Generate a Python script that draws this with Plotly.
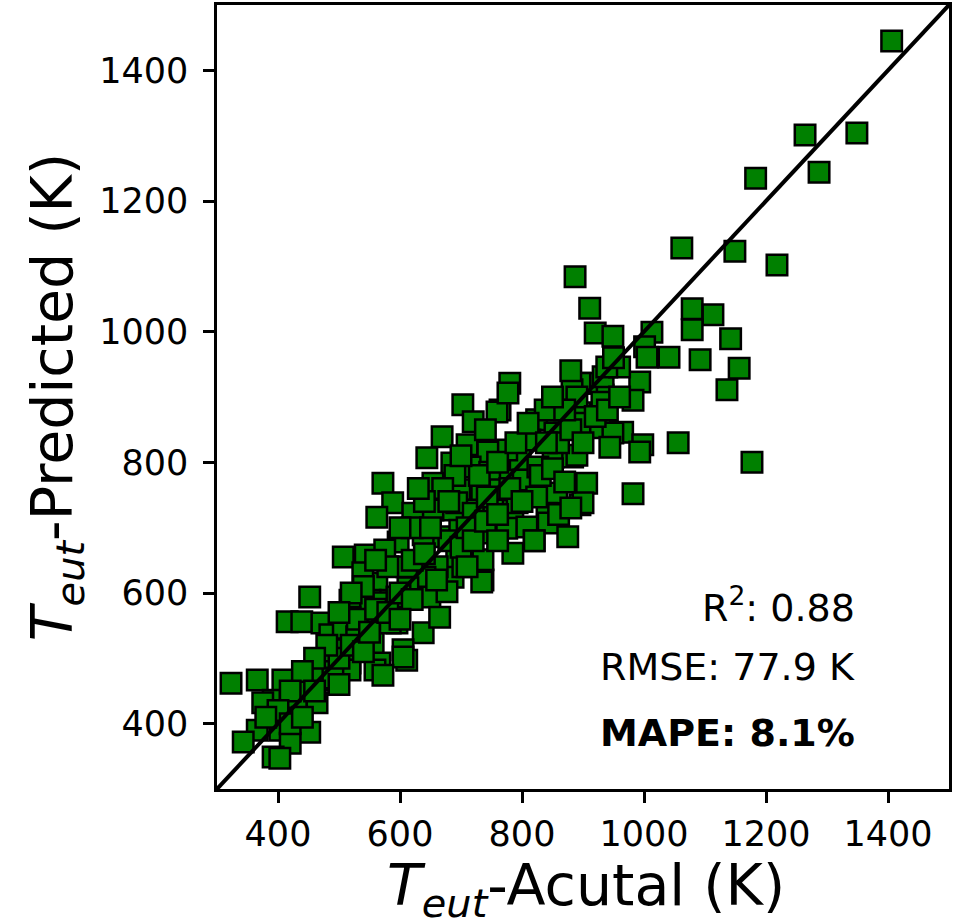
import plotly.graph_objects as go

actual = [1406, 1264, 1349, 1287, 1183, 1218, 1062, 1149, 887, 911, 1079, 1113, 1079, 1142, 1013, 1001,
          1041, 1092, 1156, 1136, 920, 949, 993, 982, 933, 906, 933, 960, 1056, 933, 965, 998, 1177, 982,
          1005, 939, 895, 882, 780, 764, 895, 928, 949, 993, 944, 851, 824, 851, 883, 808, 824, 857, 906,
          895, 841, 785, 769, 797, 775, 703, 759, 720, 777, 669, 710, 744, 644, 685, 715, 747, 654, 698,
          734, 764, 802, 826, 890, 813, 854, 895, 931, 890, 838, 900, 824, 792, 752, 720, 687, 654, 665,
          698, 736, 775, 808, 843, 875, 785, 731, 693, 649, 687, 736, 572, 588, 621, 562, 597, 507, 543,
          575, 638, 693, 720, 743, 736, 703, 734, 661, 641, 611, 562, 539, 613, 649, 677, 584, 551, 518,
          518, 562, 595, 638, 665, 538, 507, 490, 556, 605, 611, 567, 518, 485, 452, 415, 439, 472, 485,
          507, 529, 567, 595, 584, 507, 529, 559, 605, 572, 518, 480, 464, 436, 408, 366, 323, 392, 420,
          464, 375, 408, 366, 403, 452, 343, 420, 392, 403,
          430, 450, 470, 490, 500, 520, 540, 530, 550, 560, 580, 600, 620, 600, 620, 640, 660, 680, 700,
          710, 720, 740, 760, 760, 780, 800, 820, 830, 850, 860, 880, 900, 920, 940, 960, 950, 690, 670,
          640, 620, 600, 580, 560, 540, 520, 500, 480, 460, 440, 420, 400, 380, 420, 440, 460, 730, 760,
          790, 810, 840, 870, 880, 850, 740, 700, 680, 650, 630, 860, 880, 820, 710, 870, 500]
predicted = [1445, 1301, 1304, 1244, 1235, 1102, 1128, 1123, 1084, 1036, 1035, 1026, 1003, 989, 999, 977,
             961, 957, 944, 911, 998, 993, 923, 895, 903, 921, 931, 946, 830, 854, 846, 827, 800, 752,
             961, 946, 921, 911, 921, 880, 876, 853, 845, 816, 823, 865, 865, 808, 808, 784, 753, 753, 768,
             735, 722, 727, 778, 804, 819, 888, 877, 862, 906, 839, 827, 816, 807, 799, 793, 785, 768, 758,
             753, 758, 773, 793, 811, 834, 845, 860, 892, 900, 880, 738, 747, 738, 727, 727, 727, 727, 686,
             696, 692, 699, 701, 707, 686, 661, 646, 655, 624, 624, 620, 768, 738, 722, 716, 678, 655, 658,
             666, 689, 738, 722, 747, 651, 640, 617, 640, 624, 640, 615, 631, 608, 594, 602, 589, 589, 589,
             563, 563, 554, 539, 563, 548, 533, 543, 523, 513, 497, 493, 493, 497, 594, 556, 556, 554, 536,
             546, 533, 585, 594, 554, 513, 513, 482, 502, 474, 482, 467, 470, 464, 467, 467, 462, 436, 432,
             432, 432, 416, 390, 390, 387, 372, 370, 349, 347,
             440, 455, 480, 470, 500, 520, 510, 560, 540, 575, 570, 600, 590, 560, 650, 660, 620, 680, 670,
             700, 680, 710, 720, 680, 760, 740, 680, 780, 790, 830, 850, 830, 870, 880, 900, 960, 780, 760,
             740, 700, 700, 640, 650, 610, 600, 570, 520, 500, 480, 450, 420, 410, 400, 410, 450, 780, 800,
             830, 860, 830, 880, 940, 900, 850, 810, 740, 700, 760, 720, 730, 680, 640, 770, 460]

axis_range = [300, 1500]
tick_vals = [400, 600, 800, 1000, 1200, 1400]
stats_lines = ["R<sup>2</sup>: 0.88", "RMSE: 77.9 K", "<b>MAPE: 8.1%</b>"]
x_title = "<i>T</i><sub><i>eut</i></sub>-Acutal (K)"
y_title = "<i>T</i><sub><i>eut</i></sub>-Predicted (K)"

fig = go.Figure()
fig.add_trace(go.Scatter(
    x=actual, y=predicted, mode="markers",
    marker=dict(symbol="square", size=20.5, color="#008000",
                line=dict(color="black", width=2.5)),
    hoverinfo="skip", showlegend=False))
fig.add_trace(go.Scatter(
    x=axis_range, y=axis_range, mode="lines",
    line=dict(color="black", width=4), hoverinfo="skip", showlegend=False))

axis_common = dict(
    range=axis_range, tickvals=tick_vals, ticks="outside", ticklen=11, tickwidth=2.5,
    tickcolor="black", showline=True, linecolor="black", linewidth=2.5, mirror=True,
    showgrid=False, zeroline=False, automargin=False,
    tickfont=dict(family="DejaVu Sans", size=35, color="black"))

fig.update_xaxes(**axis_common, ticklabelstandoff=1)
fig.update_yaxes(**axis_common, ticklabelstandoff=8,
                 title=dict(text=y_title,
                            font=dict(family="DejaVu Sans", size=57, color="black"), standoff=9))

fig.add_annotation(text=x_title, xref="paper", yref="paper", x=0.504, y=-0.177,
                   xanchor="center", yanchor="bottom", showarrow=False,
                   font=dict(family="DejaVu Sans", size=57, color="black"))

ys = [0.2347, 0.1556, 0.0714]
for txt, yy in zip(stats_lines, ys):
    fig.add_annotation(text=txt, xref="paper", yref="paper", x=0.874, y=yy,
                       xanchor="right", yanchor="middle", showarrow=False,
                       font=dict(family="DejaVu Sans", size=38, color="black"))

fig.update_layout(width=961, height=920, margin=dict(l=217, r=12, t=5, b=131),
                  plot_bgcolor="white", paper_bgcolor="white")
fig.write_html("out.html", config={"displayModeBar": False},
               post_script="document.body.style.margin='0';")
